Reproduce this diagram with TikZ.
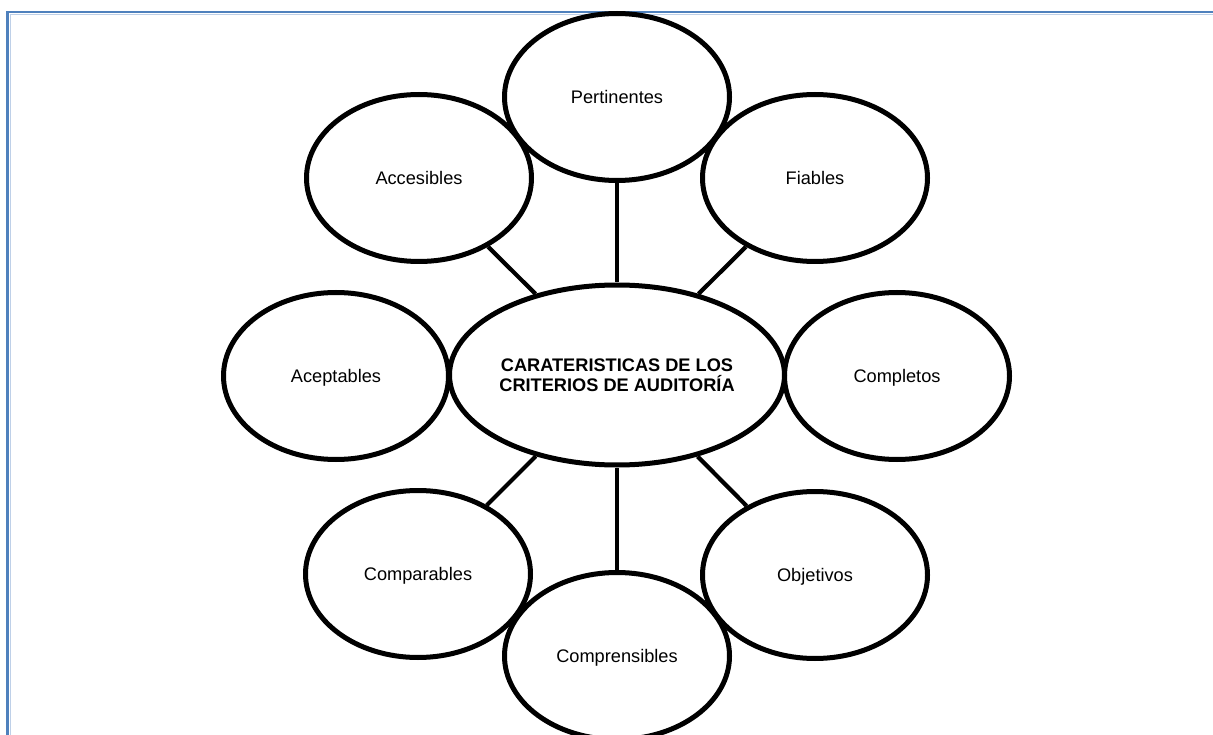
\documentclass[tikz,border=0pt]{standalone}
\usepackage{fontspec}
\setmainfont{Liberation Sans}
\usetikzlibrary{shapes.geometric}
\definecolor{frameblue}{RGB}{79,129,189}
\definecolor{framelight}{RGB}{190,208,232}
\begin{document}
\begin{tikzpicture}[x=1pt,y=-1pt,
  bubble/.style={ellipse, draw=black, line width=5pt, minimum width=225pt,
    minimum height=167pt, inner sep=0pt, text height=13pt, text depth=0pt,
    font=\fontsize{18.2}{20.5}\selectfont},
  hub/.style={ellipse, draw=black, line width=5pt, minimum width=335pt,
    minimum height=180pt, inner sep=0pt, align=center,
    font=\fontsize{18.2}{20.5}\selectfont\bfseries},
  link/.style={line width=4.2pt}]
\useasboundingbox (0,0) rectangle (1213,735);
% page frame along the left and top edges
\draw[framelight, line width=1pt] (10,735) -- (10,14.3) -- (1213,14.3);
\draw[frameblue, line width=2.2pt] (7.5,735) -- (7.5,12) -- (1213,12);
% central idea
\node[hub] (c) at (617,375) {CARATERISTICAS DE LOS\\CRITERIOS DE AUDITORÍA};
% characteristics around it
\node[bubble] (per) at (617,97) {Pertinentes};
\node[bubble] (acc) at (419,178) {Accesibles};
\node[bubble] (fia) at (815,178) {Fiables};
\node[bubble] (ace) at (336,376) {Aceptables};
\node[bubble] (com) at (897,376) {Completos};
\node[bubble] (cpa) at (418,574) {Comparables};
\node[bubble] (obj) at (815,575) {Objetivos};
\node[bubble] (cpr) at (617,656) {Comprensibles};
% spokes
\draw[link] (c) -- (per);
\draw[link] (c) -- (acc);
\draw[link] (c) -- (fia);
\draw[link] (c) -- (cpa);
\draw[link] (c) -- (obj);
\draw[link] (c) -- (cpr);
\end{tikzpicture}
\end{document}
